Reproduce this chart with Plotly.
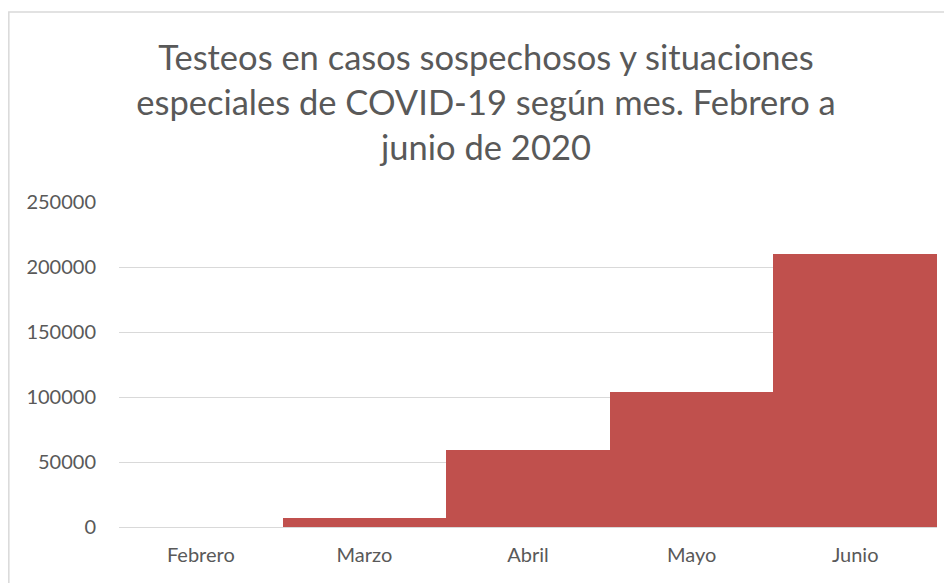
import plotly.graph_objects as go

meses = ["Febrero", "Marzo", "Abril", "Mayo", "Junio"]
testeos = [0, 6900, 59000, 104000, 210000]
y_ticks = [0, 50000, 100000, 150000, 200000, 250000]
titulo = ("Testeos en casos sospechosos y situaciones<br>"
          "especiales de COVID-19 según mes. Febrero a<br>"
          "junio de 2020")

OFF = 8  # page body margin
W, H = 952 - OFF, 583 - OFF
L, R, T, B = 119 - OFF, 15, 202 - OFF, 56
pw, ph = W - L - R, H - T - B

fig = go.Figure(go.Bar(x=meses, y=testeos, marker=dict(color="#C0504D", line=dict(width=0))))

fig.update_layout(
    width=W, height=H,
    margin=dict(l=L, r=R, t=T, b=B),
    paper_bgcolor="white", plot_bgcolor="white",
    bargap=0,
    showlegend=False,
    font=dict(family="Lato, Calibri, sans-serif", color="#595959", size=20),
    title=dict(text=titulo, x=(486 - OFF) / W, xref="container", xanchor="center",
               y=1 - (70 - OFF) / H, yref="container", yanchor="middle",
               font=dict(family="Lato, Calibri, sans-serif", size=34.5, color="#595959")),
)
fig.update_xaxes(showgrid=False, showline=False, ticks="", ticklabelstandoff=14,
                 tickfont=dict(size=20, color="#595959"))
fig.update_yaxes(range=[0, 250000], tickvals=y_ticks, ticktext=[str(v) for v in y_ticks],
                 showgrid=True, gridcolor="#D9D9D9", gridwidth=1.3,
                 zeroline=True, zerolinecolor="#D9D9D9", zerolinewidth=1.3,
                 showline=False, ticks="", ticklabelstandoff=22,
                 tickfont=dict(size=20, color="#595959"))

# chart frame
fig.add_shape(type="rect", xref="paper", yref="paper",
              x0=(8 - OFF - L) / pw + 0.001, x1=(W + 20 - L) / pw,
              y0=-(B + 20) / ph, y1=(H - (12 - OFF) - B) / ph,
              line=dict(color="#D9D9D9", width=1.5), fillcolor="rgba(0,0,0,0)", layer="below")

fig.write_html("out.html")
